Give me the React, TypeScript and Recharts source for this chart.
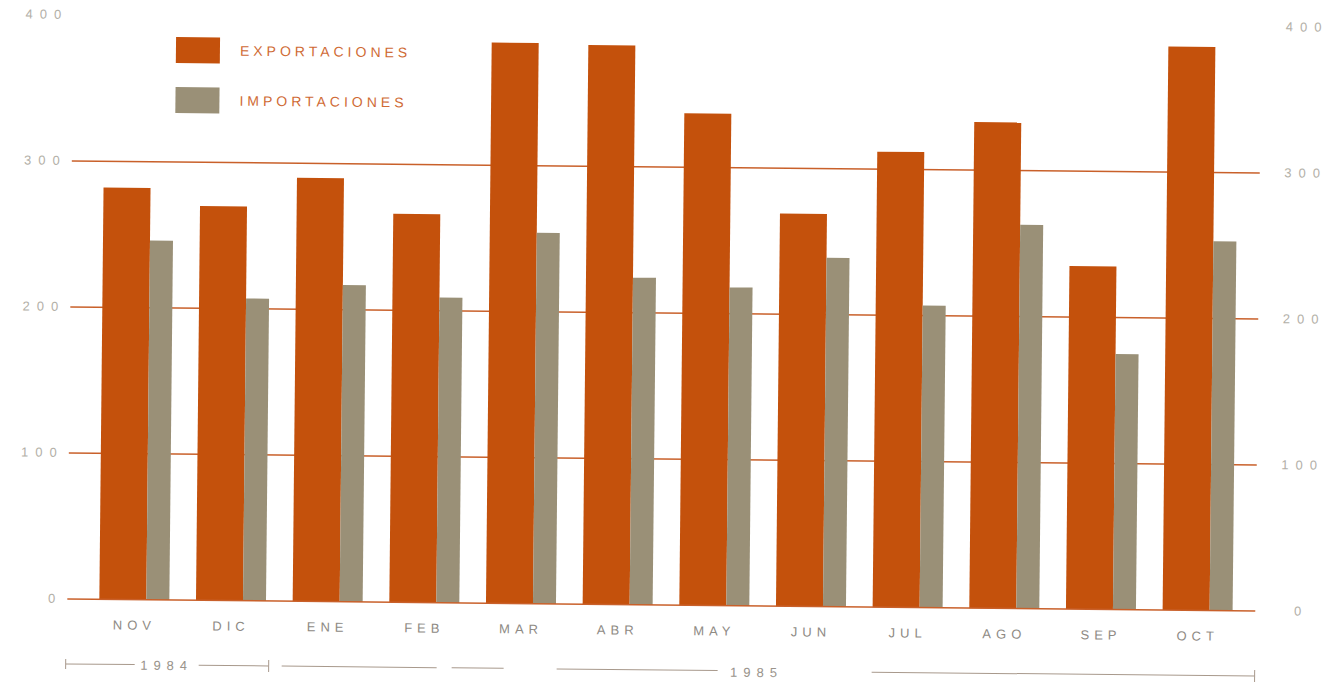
import { BarChart, Bar, XAxis, YAxis, CartesianGrid } from 'recharts';

const months = ['NOV', 'DIC', 'ENE', 'FEB', 'MAR', 'ABR', 'MAY', 'JUN', 'JUL', 'AGO', 'SEP', 'OCT'];
const exportaciones = [282, 270, 290, 266, 384, 383, 337, 269, 312, 333, 235, 386];
const importaciones = [246, 207, 217, 209, 254, 224, 218, 239, 207, 263, 175, 253];
const yTicks = [0, 100, 200, 300, 400];
const gridValues = [100, 200, 300];

const data = months.map((m, i) => ({ month: m, exp: exportaciones[i], imp: importaciones[i] }));

const EXP = '#c4510c';
const IMP = '#9a9077';
const LINE = '#c9602a';
const FONT = '"Liberation Sans", Arial, sans-serif';

// one tick renderer draws the value on both sides of the plot
function ValueTick({ x, y, payload }: any) {
  return (
    <g>
      <text x={x + 3} y={y} dy={4} textAnchor="end" fill="#b3b0a8" fontSize={13} fontFamily={FONT} letterSpacing={7}>
        {payload.value}
      </text>
      <text x={x + 1242} y={y} dy={4} textAnchor="middle" fill="#b3b0a8" fontSize={13} fontFamily={FONT} letterSpacing={7}>
        {payload.value}
      </text>
    </g>
  );
}

function MonthTick({ x, y, payload }: any) {
  return (
    <text x={x} y={y} dy={22} textAnchor="middle" fill="#8e8a84" fontSize={13} fontFamily={FONT} letterSpacing={5}>
      {payload.value}
    </text>
  );
}

function LegendBox() {
  const row = (color: string, label: string) => (
    <div style={{ display: 'flex', alignItems: 'center', height: 26, marginBottom: 24 }}>
      <div style={{ width: 44, height: 26, background: color }} />
      <span style={{ marginLeft: 20, color: '#cf6a34', fontSize: 14, letterSpacing: 4, fontFamily: FONT }}>{label}</span>
    </div>
  );
  return (
    <div style={{ position: 'absolute', top: 42, left: 173 }}>
      {row(EXP, 'EXPORTACIONES')}
      {row(IMP, 'IMPORTACIONES')}
    </div>
  );
}

export default function App() {
  return (
    <div
      style={{
        position: 'absolute',
        left: 0,
        top: 0,
        width: 1329,
        height: 682,
        background: '#fff',
        transform: 'rotate(0.585deg)',
        transformOrigin: '50% 50%',
      }}
    >
      <BarChart
        width={1329}
        height={682}
        data={data}
        margin={{ top: 21, right: 71, left: 0, bottom: 0 }}
        barGap={0}
        style={{ overflow: 'visible' }}
      >
        <CartesianGrid vertical={false} horizontalValues={gridValues} stroke={LINE} strokeWidth={1.5} />
        <XAxis
          dataKey="month"
          height={77}
          padding={{ left: 19, right: 9 }}
          axisLine={{ stroke: LINE, strokeWidth: 1.5 }}
          tickLine={false}
          tick={<MonthTick />}
          interval={0}
        />
        <YAxis width={70} domain={[0, 400]} ticks={yTicks} axisLine={false} tickLine={false} tick={<ValueTick />} />
        <Bar dataKey="exp" name="EXPORTACIONES" fill={EXP} barSize={47} isAnimationActive={false} />
        <Bar dataKey="imp" name="IMPORTACIONES" fill={IMP} barSize={23} isAnimationActive={false} />
      </BarChart>
      <LegendBox />
      <svg width={1329} height={682} style={{ position: 'absolute', left: 0, top: 0, pointerEvents: 'none' }}>
        <g stroke="#a8998c" strokeWidth={1}>
          <line x1={69} y1={670} x2={138} y2={670} />
          <line x1={202} y1={670} x2={272} y2={670} />
          <line x1={69} y1={665} x2={69} y2={675} />
          <line x1={272} y1={664} x2={272} y2={676} />
          <line x1={285} y1={670} x2={440} y2={670} />
          <line x1={455} y1={670} x2={507} y2={670} />
          <line x1={560} y1={670} x2={721} y2={670} />
          <line x1={875} y1={670} x2={1258} y2={670} />
          <line x1={1258} y1={664} x2={1258} y2={676} />
        </g>
        <text x={170} y={675} textAnchor="middle" fill="#9a948c" fontSize={13} fontFamily={FONT} letterSpacing={6}>1984</text>
        <text x={760} y={676} textAnchor="middle" fill="#9a948c" fontSize={13} fontFamily={FONT} letterSpacing={6}>1985</text>
      </svg>
    </div>
  );
}
